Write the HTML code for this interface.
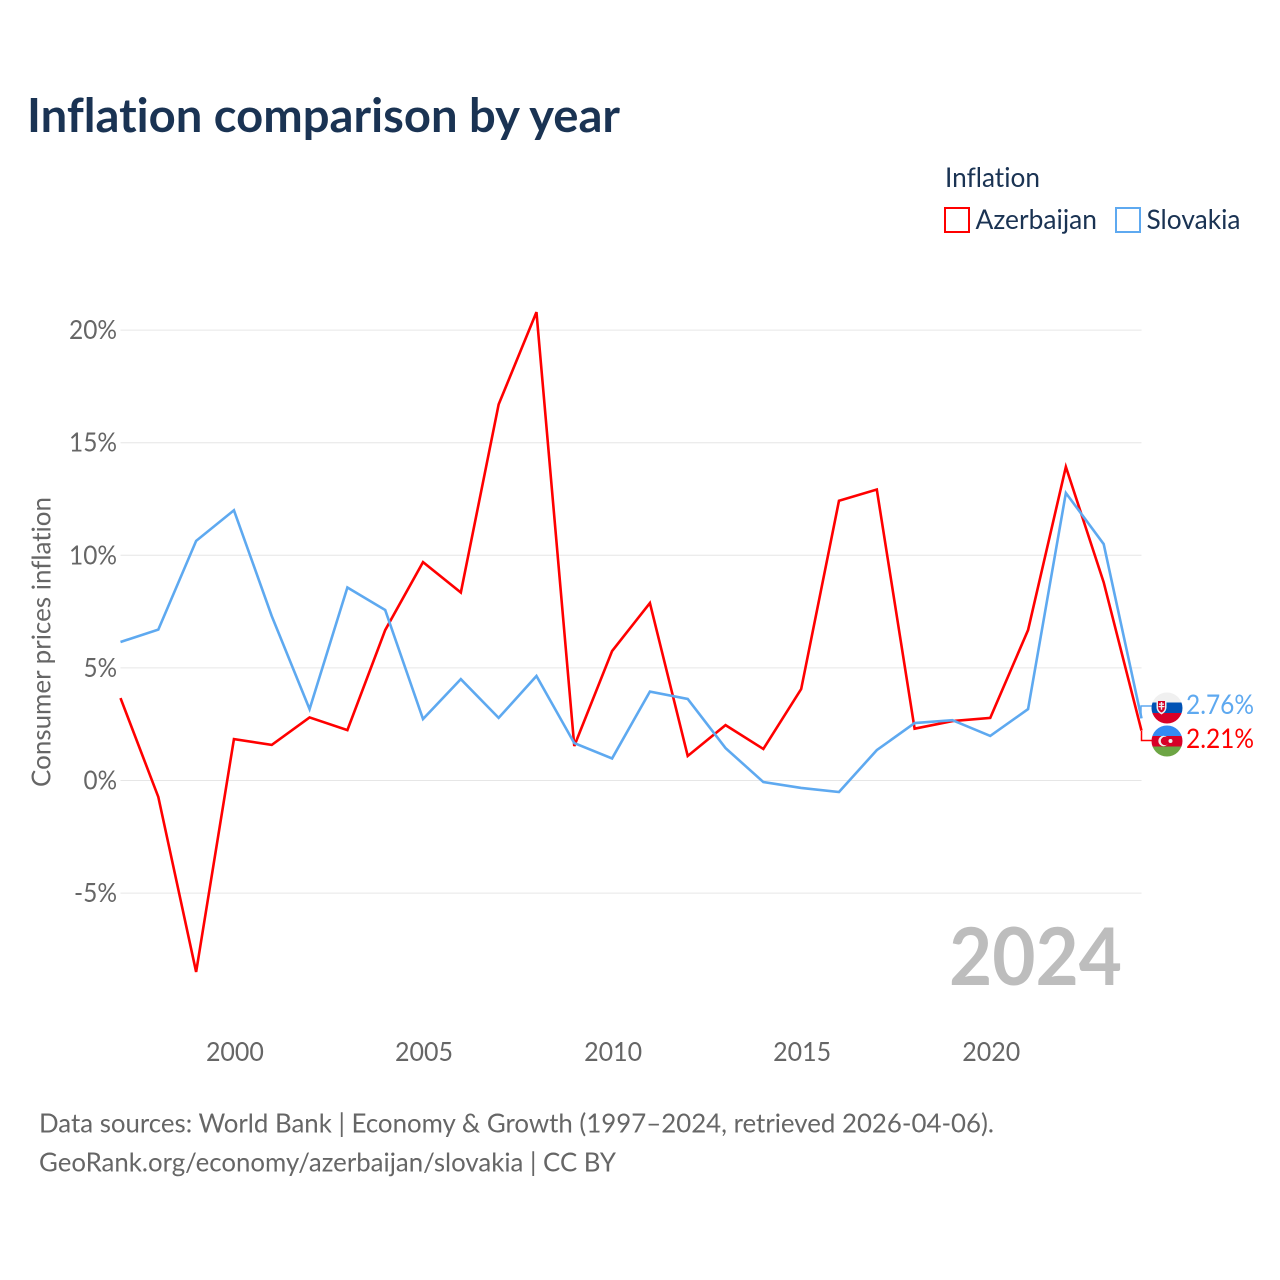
<!DOCTYPE html>
<html lang="en">
<head>
<meta charset="utf-8">
<title>Inflation comparison by year</title>
<style>
html,body{margin:0;padding:0;background:#fff;width:1280px;height:1280px;overflow:hidden}
svg{display:block}
text{font-family:"Lato","Carlito","Liberation Sans",sans-serif;font-variant-ligatures:none;font-feature-settings:"liga" 0,"clig" 0}
</style>
</head>
<body>
<svg id="chart" xmlns="http://www.w3.org/2000/svg" width="1280" height="1280" viewBox="0 0 1280 1280">
  <rect width="1280" height="1280" fill="#fff"/>
  <text x="27" y="132" font-size="46.500" font-weight="700" fill="#1a3353" textLength="593" lengthAdjust="spacingAndGlyphs">Inflation comparison by year</text>

  <g>
    <text x="945" y="187" font-size="27" fill="#1a3353" textLength="95" lengthAdjust="spacingAndGlyphs">Inflation</text>
    <g>
      <rect x="945" y="208" width="24" height="24" fill="none" stroke="#ff0000" stroke-width="2"/>
      <text x="975.500" y="229" font-size="27" fill="#1a3353" textLength="121.500" lengthAdjust="spacingAndGlyphs">Azerbaijan</text>
    </g>
    <g>
      <rect x="1116" y="208" width="24" height="24" fill="none" stroke="#5ea9f0" stroke-width="2"/>
      <text x="1146.500" y="229" font-size="27" fill="#1a3353" textLength="94" lengthAdjust="spacingAndGlyphs">Slovakia</text>
    </g>
  </g>

  <g id="grid"></g>
  <g id="yTicks"></g>
  <g id="xTicks"></g>

  <text transform="translate(50.500 787) rotate(-90)" font-size="26" fill="#666" textLength="290" lengthAdjust="spacingAndGlyphs">Consumer prices inflation</text>

  <text x="949" y="985" font-size="80" font-weight="700" fill="#bdbdbd" textLength="173" lengthAdjust="spacingAndGlyphs">2024</text>

  <g id="series"></g>

  <path d="M1141 718V706H1152" fill="none" stroke="#5ea9f0" stroke-width="1.500"/>
  <path d="M1141.500 731V740.500H1152" fill="none" stroke="#ff0000" stroke-width="1.500"/>

  <defs>
    <clipPath id="clipSk"><circle cx="1167" cy="708" r="15.500"/></clipPath>
    <clipPath id="clipAz"><circle cx="1167" cy="741" r="15.500"/></clipPath>
  </defs>
  <g clip-path="url(#clipSk)">
    <rect x="1151" y="692" width="32" height="10.500" fill="#f0f0f0"/>
    <rect x="1151" y="702.500" width="32" height="10.500" fill="#0052b4"/>
    <rect x="1151" y="713" width="32" height="11" fill="#d80027"/>
    <path d="M1156.500 699.500h10v7.500c0 4-2.500 6-5 7.500-2.500-1.500-5-3.500-5-7.500z" fill="#f0f0f0"/>
    <path d="M1158 701h7v6c0 3-1.500 4.500-3.500 5.500-2-1-3.500-2.500-3.500-5.500z" fill="#d80027"/>
    <path d="M1160.800 702h1.400v1.500h1.800v1.300h-1.800v1.200h2.300v1.300h-2.300v2.500h-1.400v-2.500h-2.300v-1.300h2.300v-1.200h-1.800v-1.300h1.800z" fill="#f0f0f0"/>
  </g>
  <g clip-path="url(#clipAz)">
    <rect x="1151" y="725" width="32" height="11" fill="#338af3"/>
    <rect x="1151" y="736" width="32" height="10.500" fill="#d80027"/>
    <rect x="1151" y="746.500" width="32" height="11" fill="#6da544"/>
    <circle cx="1163.500" cy="741" r="5.200" fill="#f0f0f0"/>
    <circle cx="1165" cy="741" r="4.200" fill="#d80027"/>
    <circle cx="1170.500" cy="741" r="2" fill="#f0f0f0"/>
  </g>

  <g id="endLabels"></g>

  <text x="39" y="1132.500" font-size="26" fill="#666" textLength="955" lengthAdjust="spacingAndGlyphs">Data sources: World Bank | Economy &amp; Growth (1997–2024, retrieved 2026-04-06).</text>
  <text x="39" y="1171.500" font-size="26" fill="#666" textLength="577" lengthAdjust="spacingAndGlyphs">GeoRank.org/economy/azerbaijan/slovakia | CC BY</text>
</svg>

<script>
const years = [1997,1998,1999,2000,2001,2002,2003,2004,2005,2006,2007,2008,2009,2010,2011,2012,2013,2014,2015,2016,2017,2018,2019,2020,2021,2022,2023,2024];
const azerbaijan = [3.66,-0.73,-8.5,1.84,1.58,2.8,2.24,6.68,9.7,8.35,16.7,20.8,1.53,5.75,7.88,1.09,2.46,1.4,4.06,12.42,12.92,2.3,2.64,2.78,6.68,13.93,8.8,2.21];
const slovakia = [6.15,6.7,10.64,12.0,7.3,3.17,8.57,7.57,2.73,4.5,2.78,4.64,1.66,0.98,3.95,3.62,1.44,-0.07,-0.33,-0.51,1.35,2.55,2.68,1.98,3.17,12.77,10.5,2.76];
const yTickValues = [-5,0,5,10,15,20];
const xTickValues = [2000,2005,2010,2015,2020];
const endLabelAzerbaijan = '2.21%';
const endLabelSlovakia = '2.76%';

const NS = 'http://www.w3.org/2000/svg';
function xScale(year){ return 120.5 + (year - 1997) * (1141.5 - 120.5) / (2024 - 1997); }
function yScale(v){ return 780.5 - v * 22.52; }
function yLabelWidth(s){
  let w = 0;
  for (const c of s) w += c === '%' ? 19 : c === '-' ? 9.5 : 14.5;
  return w;
}

const grid = document.getElementById('grid');
const yTicks = document.getElementById('yTicks');
yTickValues.forEach(function(v){
  const line = document.createElementNS(NS,'line');
  
  
  line.setAttribute('x1', xScale(1997));
  line.setAttribute('x2', xScale(2024));
  line.setAttribute('y1', yScale(v));
  line.setAttribute('y2', yScale(v));
  line.setAttribute('stroke', '#e6e6e6');
  line.setAttribute('stroke-width', '1');
  grid.appendChild(line);

  const label = v + '%';
  const t = document.createElementNS(NS,'text');
  
  
  t.setAttribute('x', 117);
  t.setAttribute('y', yScale(v) + 9);
  t.setAttribute('text-anchor', 'end');
  t.setAttribute('font-size', '26');
  t.setAttribute('fill', '#666');
  t.setAttribute('textLength', yLabelWidth(label));
  t.setAttribute('lengthAdjust', 'spacingAndGlyphs');
  t.textContent = label;
  yTicks.appendChild(t);
});

const xTicks = document.getElementById('xTicks');
xTickValues.forEach(function(y){
  const t = document.createElementNS(NS,'text');
  
  
  t.setAttribute('x', xScale(y) + 1);
  t.setAttribute('y', 1061);
  t.setAttribute('text-anchor', 'middle');
  t.setAttribute('font-size', '26');
  t.setAttribute('fill', '#666');
  t.setAttribute('textLength', '58');
  t.setAttribute('lengthAdjust', 'spacingAndGlyphs');
  t.textContent = y;
  xTicks.appendChild(t);
});

const seriesGroup = document.getElementById('series');
function pointsFor(values){
  return values.map(function(v,i){ return xScale(years[i]).toFixed(2) + ',' + yScale(v).toFixed(2); }).join(' ');
}
const lineAz = document.createElementNS(NS,'polyline');


lineAz.setAttribute('points', pointsFor(azerbaijan));
lineAz.setAttribute('fill', 'none');
lineAz.setAttribute('stroke', '#ff0000');
lineAz.setAttribute('stroke-width', '2.600');
lineAz.setAttribute('stroke-linejoin', 'miter');
seriesGroup.appendChild(lineAz);

const lineSk = document.createElementNS(NS,'polyline');


lineSk.setAttribute('points', pointsFor(slovakia));
lineSk.setAttribute('fill', 'none');
lineSk.setAttribute('stroke', '#5ea9f0');
lineSk.setAttribute('stroke-width', '2.600');
lineSk.setAttribute('stroke-linejoin', 'miter');
seriesGroup.appendChild(lineSk);

const endLabels = document.getElementById('endLabels');
const endSk = document.createElementNS(NS,'text');


endSk.setAttribute('x', 1186);
endSk.setAttribute('y', 714);
endSk.setAttribute('font-size', '27');
endSk.setAttribute('fill', '#5ea9f0');
endSk.setAttribute('textLength', '68');
endSk.setAttribute('lengthAdjust', 'spacingAndGlyphs');
endSk.textContent = endLabelSlovakia;
endLabels.appendChild(endSk);

const endAz = document.createElementNS(NS,'text');


endAz.setAttribute('x', 1186);
endAz.setAttribute('y', 748);
endAz.setAttribute('font-size', '27');
endAz.setAttribute('fill', '#ff0000');
endAz.setAttribute('textLength', '68');
endAz.setAttribute('lengthAdjust', 'spacingAndGlyphs');
endAz.textContent = endLabelAzerbaijan;
endLabels.appendChild(endAz);
</script>
</body>
</html>
